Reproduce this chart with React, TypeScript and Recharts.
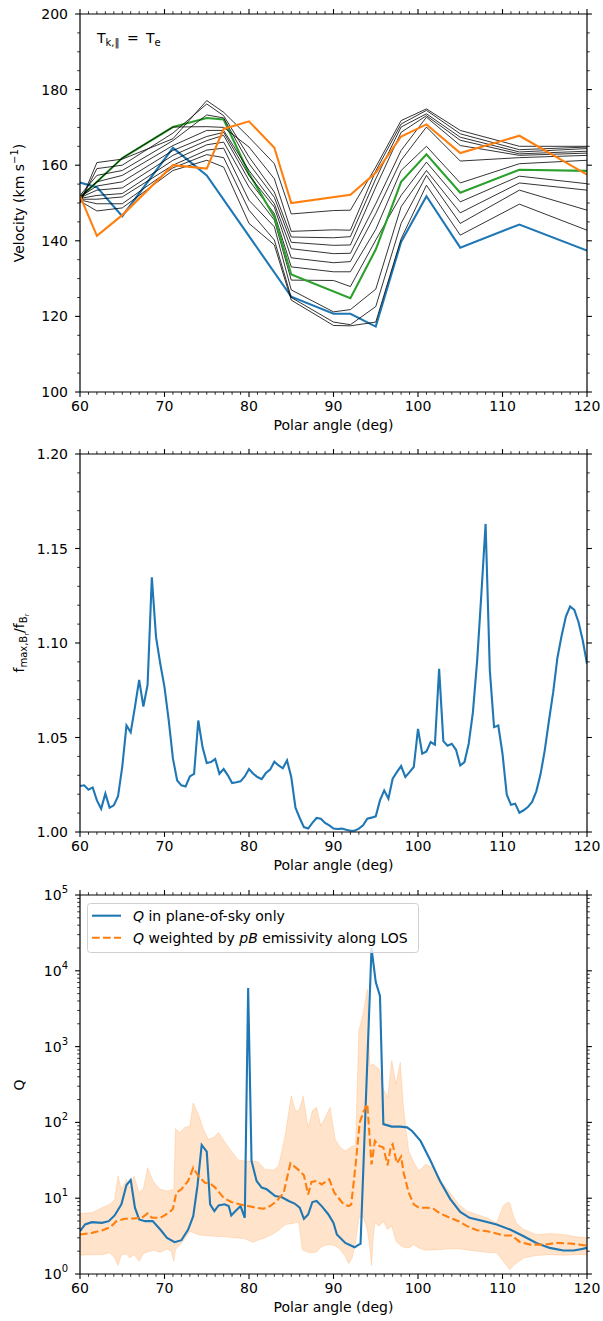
import React from "react"
import { ComposedChart, Line, Area, XAxis, YAxis, Legend } from "recharts"

const FONT = '"DejaVu Sans", sans-serif'
const BLUE = "#1f77b4"
const ORANGE = "#ff7f0e"
const GREEN = "#2ca02c"

// ---- panel 1: velocity vs polar angle
const velAngle = [60, 62, 65, 71, 75, 77, 80, 83, 85, 90, 92, 95, 98, 101, 105, 112, 120]
const thinCurves = [
  [150.5, 147.9, 148.7, 158.6, 161.3, 159.5, 144.6, 138.9, 124.3, 117.6, 117.5, 118.5, 140.5, 154.7, 141.5, 149.7, 142.8],
  [150.8, 149.8, 149.8, 159.3, 162.8, 162.0, 148.1, 140.2, 125.0, 118.5, 117.8, 122.6, 144.6, 157.3, 144.6, 153.4, 148.1],
  [151.0, 151.0, 151.6, 160.0, 164.0, 164.5, 150.7, 143.7, 127.0, 121.2, 121.8, 127.2, 149.0, 158.6, 147.4, 155.3, 153.4],
  [151.2, 152.0, 152.5, 161.3, 165.4, 166.1, 154.2, 145.5, 129.6, 129.5, 127.9, 140.2, 152.0, 160.8, 150.3, 157.1, 155.1],
  [151.4, 153.4, 154.0, 162.6, 166.5, 167.9, 156.0, 147.2, 133.1, 131.8, 131.8, 143.0, 158.6, 165.0, 155.3, 160.4, 161.3],
  [151.6, 154.5, 155.6, 163.9, 167.6, 168.7, 157.3, 148.9, 135.5, 134.2, 134.5, 147.2, 161.3, 170.1, 161.1, 162.0, 162.6],
  [151.8, 155.6, 157.3, 165.2, 169.2, 169.2, 158.6, 149.8, 137.9, 136.6, 136.7, 149.8, 163.9, 172.7, 165.2, 162.6, 163.2],
  [152.0, 157.3, 158.6, 166.5, 173.3, 172.5, 160.4, 151.5, 139.6, 138.8, 138.9, 154.2, 168.7, 173.1, 166.6, 163.0, 163.7],
  [150.2, 159.1, 160.0, 168.5, 176.2, 173.1, 162.2, 152.9, 141.0, 140.8, 141.1, 156.4, 170.1, 173.6, 167.4, 163.5, 164.4],
  [151.4, 155.6, 161.9, 170.1, 170.2, 170.0, 164.8, 156.4, 142.5, 142.9, 142.8, 158.5, 170.9, 174.5, 168.3, 164.1, 164.8],
  [150.0, 160.7, 161.6, 167.0, 177.1, 174.0, 167.4, 160.4, 147.1, 148.0, 148.1, 159.5, 171.8, 174.9, 169.2, 165.0, 165.0],
]
const blueVelAngle = [60, 62, 65, 71, 75, 85, 90, 92, 95, 98, 101, 105, 112, 120]
const blueVel = [155.4, 154.2, 146.5, 164.6, 157.3, 125.2, 120.7, 120.7, 117.3, 139.7, 151.8, 138.2, 144.3, 137.4]
const greenVelAngle = [60, 65, 71, 75, 77, 80, 83, 85, 92, 95, 98, 101, 105, 112, 120]
const greenVel = [151.4, 161.9, 170.1, 172.5, 172.1, 157.8, 146.3, 131.1, 124.8, 137.7, 155.6, 162.9, 152.7, 158.8, 158.5]
const orangeVelAngle = [60, 62, 65, 71, 75, 77, 80, 83, 85, 92, 95, 98, 101, 105, 112, 120]
const orangeVel = [151.9, 141.3, 146.8, 160.0, 159.1, 169.6, 171.6, 164.6, 150.0, 152.2, 158.0, 167.6, 170.8, 163.2, 167.8, 157.5]

// ---- panel 2: f_max / f ratio, half-degree grid
const ratioAngle = Array.from({ length: 121 }, (_, i) => 60 + i * 0.5)
const ratio = [
  1.0243, 1.0247, 1.0224, 1.0236, 1.0167, 1.0123, 1.0203, 1.0129, 1.0141, 1.0189,
  1.0344, 1.0564, 1.0527, 1.0661, 1.0805, 1.0664, 1.078, 1.1348, 1.1031, 1.089,
  1.0767, 1.059, 1.0388, 1.0273, 1.0247, 1.0241, 1.0294, 1.0308, 1.059, 1.0449,
  1.0365, 1.037, 1.0386, 1.0308, 1.0333, 1.03, 1.0259, 1.0263, 1.0268, 1.0294,
  1.0333, 1.0308, 1.0291, 1.028, 1.0312, 1.033, 1.0372, 1.0352, 1.0337, 1.0379,
  1.0291, 1.0129, 1.0074, 1.0026, 1.0018, 1.0048, 1.0074, 1.007, 1.0048, 1.0035,
  1.0018, 1.0016, 1.0018, 1.0012, 1.0007, 1.0007, 1.0018, 1.0035, 1.007, 1.0076,
  1.0083, 1.0167, 1.022, 1.0176, 1.0282, 1.0317, 1.0349, 1.0291, 1.0317, 1.0344,
  1.0546, 1.0414, 1.0426, 1.0476, 1.0462, 1.0863, 1.0481, 1.0456, 1.0467, 1.0435,
  1.0352, 1.037, 1.0467, 1.0634, 1.0907, 1.126, 1.163, 1.0855, 1.0555, 1.0564,
  1.0414, 1.0199, 1.0144, 1.015, 1.0102, 1.0115, 1.0132, 1.0159, 1.0215, 1.0305,
  1.0432, 1.059, 1.074, 1.0922, 1.104, 1.114, 1.1193, 1.1175, 1.111, 1.1013,
  1.089,
]

// ---- panel 3: Q
const qSkyAngle = [
  60, 60.6, 61.4, 62.6, 63.4, 64.1, 64.9, 65.5, 66.0, 66.5, 67.0, 67.7, 68.6, 69.5, 70.3, 71.2, 72.0, 72.8, 73.4, 73.9,
  74.4, 75.0, 75.4, 75.9, 76.4, 77.1, 77.6, 77.9, 78.4, 79.0, 79.5, 79.9, 80.3, 80.9, 81.5, 82.1, 83.1, 83.9, 84.7, 85.4,
  86.0, 86.5, 87.0, 87.5, 88.0, 88.6, 89.4, 90.0, 90.4, 91.4, 92.5, 93.0, 93.2, 94.5, 95.0, 95.5, 95.9, 96.9, 97.9, 98.7,
  99.3, 100.3, 101.4, 102.6, 103.8, 105.0, 106.1, 107.7, 109.3, 110.9, 112.5, 114.0, 115.6, 117.2, 118.4, 119.4, 120,
]
const qSky = [
  3.67, 4.5, 4.83, 4.73, 4.98, 5.92, 8.3, 14.9, 17.4, 7.5, 5.24, 4.98, 4.98, 3.86, 3.0, 2.63, 2.79, 3.86, 5.8, 14.5,
  50.5, 41.2, 8.3, 6.76, 8.03, 8.3, 7.87, 5.92, 6.76, 7.87, 5.51, 5930, 31, 16.9, 13.8, 13.1, 10.7, 10.3, 9.2, 8.5,
  7.5, 5.35, 6.1, 8.9, 9.2, 7.87, 6.1, 4.73, 3.32, 2.57, 2.25, 2.44, 2.5, 19800, 7100, 4650, 95, 88, 88, 86,
  77, 57, 32.6, 16.9, 9.8, 6.6, 5.5, 5.0, 4.5, 3.86, 3.15, 2.57, 2.21, 2.04, 2.04, 2.14, 2.21,
]
const qLosAngle = [
  60, 61.4, 62.6, 63.6, 64.3, 65.3, 66.3, 67.3, 68.0, 68.5, 69.5, 70.5, 71.0, 71.4, 72.0, 72.8, 73.4, 74.0, 74.8, 75.4,
  76.0, 77.0, 77.9, 78.9, 79.9, 80.9, 81.7, 82.5, 83.3, 84.1, 84.9, 85.4, 86.0, 86.5, 87.0, 87.4, 88.0, 88.6, 89.5, 90.1,
  91.2, 91.8, 92.1, 92.6, 93.1, 93.6, 94.0, 94.5, 94.9, 95.4, 95.9, 96.4, 96.8, 97.0, 97.5, 98.0, 98.3, 98.9, 99.5, 100.1,
  101.1, 101.8, 102.6, 103.8, 104.8, 105.8, 107.0, 108.2, 109.3, 110.1, 111.1, 112.1, 113.3, 114.9, 116.4, 118.0, 120,
]
const qLos = [
  3.32, 3.49, 3.75, 4.15, 4.98, 5.35, 5.4, 5.51, 6.3, 5.51, 5.51, 6.42, 7.26, 11.8, 13.1, 16.9, 25.3, 19.6, 16.0, 15.7,
  13.8, 10.1, 8.9, 8.3, 7.87, 7.48, 7.26, 7.87, 9.2, 11.8, 28.9, 26.1, 22.9, 20, 11.2, 16.4, 16.9, 15.2, 17.7, 11.8,
  8.3, 7.87, 8.3, 26.6, 100, 142, 175, 28, 57, 49, 46.6, 27.2, 49, 51.6, 28.9, 35.4, 21.7, 11.8, 8.3, 7.48,
  7.48, 7.26, 6.3, 5.5, 4.98, 4.28, 3.78, 3.67, 3.42, 3.22, 3.22, 2.63, 2.44, 2.44, 2.57, 2.52, 2.37,
]
const qBandAngle = [
  60, 61.4, 62.6, 63.5, 64.1, 64.5, 64.9, 65.5, 65.9, 66.4, 67.0, 67.5, 68.0, 68.7, 69.5, 70.3, 70.8, 71.1, 71.3, 71.8,
  72.4, 73.0, 73.4, 74.0, 74.6, 75.2, 75.8, 76.4, 77.2, 77.9, 78.7, 79.5, 80.5, 81.1, 81.9, 82.9, 83.5, 84.3, 85.0, 85.5,
  85.9, 86.3, 86.4, 87.0, 87.5, 88.0, 88.5, 89.0, 89.6, 90.2, 90.8, 91.4, 91.8, 92.2, 92.6, 93.0, 93.5, 94.0, 94.3, 94.5,
  94.7, 94.9, 95.4, 95.9, 96.4, 96.9, 97.4, 97.9, 98.3, 98.9, 99.5, 100.1, 100.9, 101.8, 102.8, 103.8, 104.8, 105.8, 107.0, 108.2,
  109.3, 110.1, 110.7, 110.9, 111.3, 111.7, 112.5, 114.0, 115.6, 117.2, 118.8, 120,
]
const qBandLow = [
  1.77, 1.8, 1.8, 1.9, 1.63, 1.29, 1.8, 1.84, 1.63, 1.8, 1.47, 1.85, 1.95, 2.05, 1.94, 2.14, 2.0, 1.47, 2.1, 2.4,
  2.91, 3.67, 3.5, 3.3, 3.22, 3.2, 3.15, 3.12, 3.09, 3.02, 2.98, 2.91, 2.63, 2.8, 3.0, 3.4, 3.78, 4.5, 4.6, 4.73,
  4.73, 2.1, 2.05, 1.94, 1.9, 1.95, 2.25, 2.4, 2.44, 2.35, 2.1, 1.7, 1.37, 1.63, 2.57, 5.5, 5.8, 3.8, 2.2, 1.29,
  3.0, 4.73, 4.28, 4.98, 3.86, 4.28, 2.7, 2.4, 2.25, 2.2, 2.44, 2.2, 2.05, 2.08, 2.1, 2.15, 2.15, 2.08, 2.0, 1.92,
  1.9, 1.47, 1.2, 1.14, 1.3, 1.4, 1.63, 1.75, 1.8, 1.77, 1.8, 1.8,
]
const qBandHigh = [
  6.3, 6.42, 7.48, 8.3, 9.5, 19.6, 13.1, 17.7, 13.5, 19.6, 11.8, 13.3, 25.3, 16.4, 13.1, 12.4, 12.8, 13.1, 83, 73.6,
  85.7, 90, 180, 129, 81, 60, 63, 73.6, 54, 42, 32, 31, 31, 30, 24, 23.6, 26.6, 70, 225, 142,
  142, 200, 225, 85.7, 142, 158, 90, 116, 158, 60, 46.6, 42, 45, 49, 49, 1630, 2710, 5700, 561, 570,
  590, 560, 507, 275, 214, 654, 321, 621, 150, 42, 30, 22.9, 28, 25.3, 16.4, 11.8, 8.3, 6.76, 6.1, 5.5,
  4.73, 8.0, 8.9, 8.5, 5.8, 4.6, 3.9, 3.32, 3.42, 3.32, 3.09, 3.0,
]

const zip = (xs: number[], ys: number[]) => xs.map((x, i) => ({ x, y: ys[i] }))

// tick positions
const angleTicks: number[] = []
for (let a = 60; a <= 120; a++) angleTicks.push(a)
const velTicks: number[] = []
for (let v = 100; v <= 200; v += 5) velTicks.push(v)
const ratioTicks: number[] = []
for (let i = 100; i <= 120; i++) ratioTicks.push(i / 100)
const qTicks: number[] = []
for (let e = 0; e < 5; e++) for (let m = 1; m < 10; m++) qTicks.push(m * 10 ** e)
qTicks.push(1e5)

const majorAngle = (v: number) => v % 10 === 0
const majorVel = (v: number) => v % 20 === 0
const majorRatio = (v: number) => Math.round(v * 100) % 5 === 0
const majorQ = (v: number) => Math.abs(Math.log10(v) - Math.round(Math.log10(v))) < 1e-9

const powLabel = (v: number) => (
  <>
    10<tspan dy={-7} fontSize={10}>{Math.round(Math.log10(v))}</tspan>
  </>
)

type Side = "bottom" | "top" | "left" | "right"

const tickRenderer = (side: Side, isMajor: (v: number) => boolean, label?: (v: number) => React.ReactNode) =>
  (props: any) => {
    const { x, y, payload } = props
    const v = payload.value as number
    const major = isMajor(v)
    const len = major ? 4.9 : 2.8
    const dx = side === "left" ? -len : side === "right" ? len : 0
    const dy = side === "bottom" ? len : side === "top" ? -len : 0
    return (
      <g>
        <line x1={x} y1={y} x2={x + dx} y2={y + dy} stroke="#000" strokeWidth={major ? 1.1 : 0.8} />
        {major && label && side === "bottom" && (
          <text x={x} y={y + 19} textAnchor="middle" fontFamily={FONT} fontSize={14} fill="#000">
            {label(v)}
          </text>
        )}
        {major && label && side === "left" && (
          <text x={x - 12} y={y + 5} textAnchor="end" fontFamily={FONT} fontSize={14} fill="#000">
            {label(v)}
          </text>
        )}
      </g>
    )
  }

const AX = { stroke: "#000", strokeWidth: 1.2 }
// each axis takes 1px, so the plot area ends up at x 80..587, y 14..392
const MARGIN = { top: 13, right: 15, bottom: 47, left: 79 }

const frame = (yDomain: number[], yTicks: number[], yMajor: (v: number) => boolean, yLabel: (v: number) => React.ReactNode, log = false) => {
  const common = { tickSize: 0, tickMargin: 0, tickLine: false, axisLine: AX, interval: 0 as const, allowDataOverflow: true }
  return [
    <XAxis key="xb" xAxisId="b" type="number" dataKey="x" domain={[60, 120]} ticks={angleTicks} height={1} {...common}
      tick={tickRenderer("bottom", majorAngle, (v) => String(v))} />,
    <XAxis key="xt" xAxisId="t" orientation="top" type="number" dataKey="x" domain={[60, 120]} ticks={angleTicks} height={1} {...common}
      tick={tickRenderer("top", majorAngle)} />,
    <YAxis key="yl" yAxisId="l" type="number" domain={yDomain} ticks={yTicks} width={1} scale={log ? "log" : "linear"} {...common}
      tick={tickRenderer("left", yMajor, yLabel)} />,
    <YAxis key="yr" yAxisId="r" orientation="right" type="number" domain={yDomain} ticks={yTicks} width={1} scale={log ? "log" : "linear"} {...common}
      tick={tickRenderer("right", yMajor)} />,
  ]
}

const QLegend = () => (
  <svg width={332} height={50} style={{ display: "block" }} fontFamily={FONT} fontSize={14}>
    <rect x={0.5} y={0.5} width={331} height={49} rx={3} fill="#fff" fillOpacity={0.8} stroke="#d0d0d0" />
    <line x1={5} x2={34} y1={12.7} y2={12.7} stroke={BLUE} strokeWidth={2.1} />
    <text x={46} y={17.5} fill="#000"><tspan fontStyle="italic">Q</tspan> in plane-of-sky only</text>
    <line x1={5} x2={34} y1={34.7} y2={34.7} stroke={ORANGE} strokeWidth={2.1} strokeDasharray="7.7 3.3" />
    <text x={46} y={40} fill="#000">
      <tspan fontStyle="italic">Q</tspan> weighted by <tspan fontStyle="italic">pB</tspan> emissivity along LOS
    </text>
  </svg>
)

export default function App() {
  const black = thinCurves.map((c) => zip(velAngle, c))
  const line = (key: string, data: any[], color: string, width: number, dash?: string) => (
    <Line key={key} data={data} dataKey="y" xAxisId="b" yAxisId="l" type="linear" stroke={color} strokeWidth={width}
      strokeDasharray={dash} dot={false} activeDot={false} isAnimationActive={false} />
  )
  const bandData = qBandAngle.map((x, i) => ({ x, range: [qBandLow[i], qBandHigh[i]] }))

  return (
    <div style={{ position: "absolute", left: 0, top: 0, width: 603, height: 1321, background: "#fff" }}>
      <div style={{ position: "absolute", left: 0, top: 0 }}>
        <ComposedChart width={603} height={440} margin={MARGIN}>
          {frame([100, 200], velTicks, majorVel, (v) => String(v))}
          {line("blue", zip(blueVelAngle, blueVel), BLUE, 2.1)}
          {black.slice(0, 5).map((d, i) => line("k" + i, d, "#000", 0.8))}
          {line("green", zip(greenVelAngle, greenVel), GREEN, 2.1)}
          {black.slice(5).map((d, i) => line("k" + (i + 5), d, "#000", 0.8))}
          {line("orange", zip(orangeVelAngle, orangeVel), ORANGE, 2.1)}
        </ComposedChart>
      </div>

      <div style={{ position: "absolute", left: 0, top: 440 }}>
        <ComposedChart width={603} height={440} margin={MARGIN}>
          {frame([1, 1.2], ratioTicks, majorRatio, (v) => v.toFixed(2))}
          {line("ratio", zip(ratioAngle, ratio), BLUE, 2.1)}
        </ComposedChart>
      </div>

      <div style={{ position: "absolute", left: 0, top: 881 }}>
        <ComposedChart width={603} height={441} margin={MARGIN}>
          {frame([1, 100000], qTicks, majorQ, powLabel, true)}
          <Area data={bandData} dataKey="range" xAxisId="b" yAxisId="l" type="linear" fill={ORANGE} fillOpacity={0.22}
            stroke={ORANGE} strokeOpacity={0.18} strokeWidth={1} isAnimationActive={false} dot={false} activeDot={false} />
          {line("qsky", zip(qSkyAngle, qSky), BLUE, 2.1)}
          {line("qlos", zip(qLosAngle, qLos), ORANGE, 2.1, "7.7 3.3")}
          <Legend layout="vertical" align="center" verticalAlign="middle" content={() => <QLegend />}
            wrapperStyle={{ left: 87, top: 22, width: 332, height: 50 }} />
        </ComposedChart>
      </div>

      <svg width={603} height={1321} style={{ position: "absolute", left: 0, top: 0, pointerEvents: "none" }}
        fontFamily={FONT} fontSize={14} fill="#000">
        <text x={97} y={43}>
          T<tspan fontSize={10} dy={3}>k,‖</tspan>
          <tspan x={127} dy={-3}>=</tspan>
          <tspan x={146}>T</tspan>
          <tspan fontSize={10} dy={3}>e</tspan>
        </text>
        <text transform="translate(24,203) rotate(-90)" textAnchor="middle">
          Velocity (km s<tspan dy={-6} fontSize={10}>−1</tspan><tspan dy={6}>)</tspan>
        </text>
        <text transform="translate(24,643) rotate(-90)" textAnchor="middle">
          f<tspan fontSize={10} dy={3}>max,B</tspan><tspan fontSize={7} dy={2}>r</tspan>
          <tspan fontSize={14} dy={-5}>/f</tspan><tspan fontSize={10} dy={3}>B</tspan><tspan fontSize={7} dy={2}>r</tspan>
        </text>
        <text transform="translate(24,1085) rotate(-90)" textAnchor="middle">Q</text>
        <text x={333.5} y={430} textAnchor="middle">Polar angle (deg)</text>
        <text x={333.5} y={870} textAnchor="middle">Polar angle (deg)</text>
        <text x={333.5} y={1312} textAnchor="middle">Polar angle (deg)</text>
      </svg>
    </div>
  )
}
